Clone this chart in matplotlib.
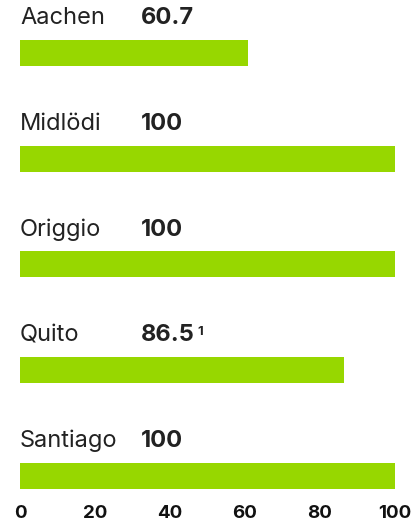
import matplotlib

matplotlib.use("Agg")

import matplotlib.pyplot as plt

cities = ["Aachen", "Midlödi", "Origgio", "Quito", "Santiago"]
scores = [60.7, 100, 100, 86.5, 100]
score_labels = ["60.7", "100", "100", "86.5", "100"]
footnotes = ["", "", "", "1", ""]
ticks = [0, 20, 40, 60, 80, 100]

GREEN = "#97d700"
INK = "#222222"

plt.rcParams["font.family"] = ["Inter", "DejaVu Sans"]

fig = plt.figure(figsize=(4.18, 5.23), dpi=100)
ax = fig.add_axes([20 / 418, 28 / 523, 375 / 418, 495 / 523])

positions = list(range(len(cities)))
ax.barh(positions, scores, height=0.246, color=GREEN)

for pos, city, label, note in zip(positions, cities, score_labels, footnotes):
    ax.text(0, pos - 0.33, city, fontsize=17, color=INK, va="center", ha="left")
    value = ax.text(32.3, pos - 0.33, label, fontsize=17, fontweight="bold",
                    color=INK, va="center", ha="left")
    if note:
        ax.annotate(note, xy=(1, 1), xycoords=value, xytext=(2, -1),
                    textcoords="offset points", fontsize=9.5, fontweight="bold",
                    color=INK, va="top", ha="left")

ax.set_xlim(0, 100)
ax.set_ylim(4.18, -0.5)
ax.set_xticks(ticks)
ax.set_xticklabels([str(t) for t in ticks], fontsize=13.5, fontweight="bold", color="#111111")
ax.set_yticks([])
ax.tick_params(axis="x", length=0, pad=7)
for spine in ax.spines.values():
    spine.set_visible(False)

fig.savefig("out.png", dpi=100)
